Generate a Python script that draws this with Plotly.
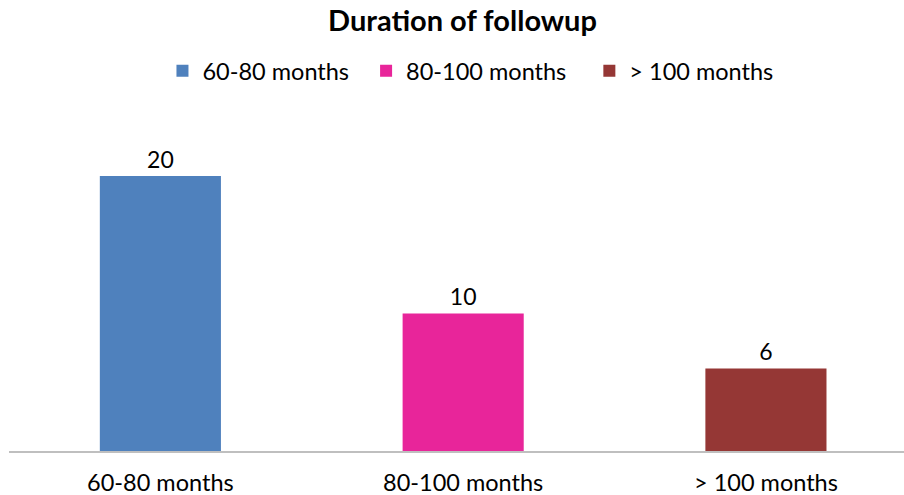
import plotly.graph_objects as go

# Follow-up duration groups and patient counts
categories = ["60-80 months", "80-100 months", "> 100 months"]
counts = [20, 10, 6]
colors = ["#4F81BD", "#E8259A", "#953735"]
# non-breaking spaces appended to legend entries to widen the gaps between them
legend_pad = [2, 3, 0]

FONT = "Lato, Calibri, sans-serif"

fig = go.Figure()
for cat, val, col, pad in zip(categories, counts, colors, legend_pad):
    fig.add_trace(go.Bar(
        x=[cat], y=[val],
        name=cat + "\u00a0" * pad,
        marker=dict(color=col, line=dict(width=0)),
        width=0.4,
        text=[str(val)], textposition="outside",
        textfont=dict(family=FONT, size=23, color="#000000"),
        cliponaxis=False,
    ))

fig.update_layout(
    width=904, height=495,
    margin=dict(l=9, r=0, t=120, b=44),
    paper_bgcolor="white", plot_bgcolor="white",
    barmode="overlay",
    title=dict(text="<b>Duration of followup</b>", x=0.5116, xanchor="center",
               y=0.958, yanchor="middle",
               font=dict(family=FONT, size=29, color="#000000")),
    legend=dict(orientation="h", x=0.5156, xanchor="center", y=1.148, yanchor="middle",
                font=dict(family=FONT, size=23.5, color="#000000"),
                itemwidth=30, traceorder="normal"),
    xaxis=dict(type="category", categoryorder="array", categoryarray=categories,
               range=[-0.5, 2.456], showgrid=False, showline=True,
               linecolor="#BFBFBF", linewidth=2, ticks="",
               tickfont=dict(family=FONT, size=23.5, color="#000000"),
               ticklabelstandoff=10, automargin=False),
    yaxis=dict(range=[0, 24.07], visible=False, showgrid=False, automargin=False),
    font=dict(family=FONT),
)

fig.write_html("out.html")
